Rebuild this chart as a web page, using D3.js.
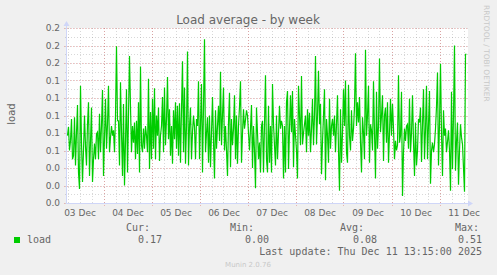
<!DOCTYPE html>
<html>
<head>
<meta charset="utf-8">
<script src="https://cdn.jsdelivr.net/npm/d3@7"></script>
<style>
body { margin: 0; background: #f0f0f0; }
svg { display: block; }
</style>
</head>
<body>
<svg id="chart" width="497" height="275"></svg>
<script>
const title = "Load average - by week";
const yTicks = [0, 0.01, 0.02, 0.03, 0.04, 0.05, 0.06, 0.07, 0.08, 0.09, 0.10,
                0.11, 0.12, 0.13, 0.14, 0.15, 0.16, 0.17, 0.18, 0.19, 0.20];
const yLabelTicks = [0, 0.02, 0.04, 0.06, 0.08, 0.10, 0.12, 0.14, 0.16, 0.18, 0.20];
const dayLabels = ["03 Dec", "04 Dec", "05 Dec", "06 Dec", "07 Dec", "08 Dec", "09 Dec", "10 Dec", "11 Dec"];
const legendHeads = ["Cur:", "Min:", "Avg:", "Max:"];
const legendValues = ["0.17", "0.00", "0.08", "0.51"];
const lastUpdate = "Last update: Thu Dec 11 13:15:00 2025";

// load average, one sample per 30 minutes, oldest first
const load = [
  0.077,0.087,0.060,0.071,0.096,0.050,0.054,0.098,0.043,0.080,
  0.112,0.035,0.016,0.134,0.070,0.024,0.060,0.100,0.065,0.043,
  0.090,0.115,0.031,0.070,0.109,0.024,0.050,0.068,0.050,0.079,
  0.081,0.050,0.102,0.058,0.088,0.129,0.031,0.075,0.119,0.062,
  0.090,0.134,0.058,0.075,0.088,0.077,0.083,0.058,0.100,0.179,
  0.094,0.094,0.043,0.138,0.080,0.031,0.113,0.020,0.070,0.130,
  0.035,0.100,0.168,0.110,0.058,0.088,
  0.069,0.092,0.050,0.094,0.056,0.115,0.035,0.156,0.066,0.058,
  0.085,0.062,0.088,0.077,0.058,0.142,0.039,0.104,0.050,0.119,
  0.062,0.131,0.050,0.100,0.077,0.109,0.048,0.077,0.088,0.121,
  0.058,0.132,0.066,0.096,0.144,0.073,0.107,0.054,0.088,0.045,
  0.106,0.073,0.115,0.062,0.111,0.054,0.114,0.046,0.107,0.162,
  0.058,0.132,0.045,0.088,0.173,0.043,0.088,0.109,0.050,0.081,
  0.100,0.087,0.050,0.096,0.088,0.139,
  0.050,0.090,0.136,0.035,0.110,0.187,0.058,0.080,0.098,0.046,
  0.100,0.041,0.080,0.121,0.070,0.028,0.106,0.062,0.088,0.111,
  0.071,0.150,0.066,0.100,0.132,0.060,0.088,0.060,0.031,0.092,
  0.126,0.041,0.096,0.066,0.085,0.123,0.050,0.100,0.045,0.088,
  0.110,0.139,0.046,0.080,0.107,0.085,0.095,0.106,0.100,0.080,
  0.060,0.085,0.112,0.040,0.088,0.060,0.017,0.109,0.080,0.050,
  0.069,0.035,0.088,0.094,0.035,0.090,0.146,
  0.050,0.035,0.111,0.046,0.088,0.035,0.136,0.090,0.066,0.043,
  0.100,0.050,0.080,0.111,0.085,0.094,0.088,0.028,0.088,0.035,
  0.115,0.128,0.039,0.085,0.123,0.081,0.128,0.041,0.096,0.077,
  0.060,0.028,0.134,0.100,0.066,0.145,0.067,0.080,0.090,0.100,
  0.058,0.107,0.077,0.103,0.058,0.085,0.119,0.066,0.100,0.168,
  0.067,0.100,0.151,0.090,0.113,0.033,0.070,0.100,0.130,0.026,
  0.096,0.077,0.046,0.119,0.062,0.088,0.096,
  0.077,0.100,0.058,0.090,0.123,0.060,0.014,0.107,0.046,0.080,
  0.130,0.088,0.140,0.058,0.046,0.135,0.077,0.060,0.106,0.071,
  0.085,0.110,0.171,0.088,0.115,0.092,0.121,0.070,0.035,0.098,
  0.080,0.050,0.175,0.077,0.100,0.134,0.046,0.090,0.083,0.060,
  0.139,0.080,0.028,0.127,0.062,0.088,0.165,0.081,0.100,0.123,
  0.048,0.100,0.109,0.069,0.115,0.046,0.080,0.119,0.077,0.113,
  0.085,0.050,0.071,0.060,0.066,0.146,0.069,
  0.077,0.127,0.008,0.058,0.085,0.071,0.088,0.090,0.062,0.119,
  0.058,0.080,0.123,0.070,0.031,0.092,0.043,0.060,0.096,0.092,
  0.109,0.047,0.090,0.130,0.050,0.085,0.134,0.050,0.090,0.128,
  0.022,0.060,0.069,0.058,0.067,0.085,0.110,0.149,0.043,0.090,
  0.159,0.080,0.031,0.106,0.077,0.085,0.058,0.070,0.083,0.060,
  0.014,0.127,0.039,0.100,0.180,0.037,0.070,0.092,0.021,0.060,
  0.090,0.075,0.067,0.040,0.013,0.170,0.170
];

const svg = d3.select("#chart");
const font = "DejaVu Sans, sans-serif";
const mono = "DejaVu Sans Mono, monospace";
const fontColor = "#666666";
const axisColor = "#cfd6f8";

const plotLeft = 66, plotRight = 466, plotTop = 28, plotBottom = 203;

const endTime = new Date(2025, 11, 11, 13, 15);
const startTime = d3.timeHour.offset(endTime, -200);
const points = load.map((v, i) => ({ t: d3.timeMinute.offset(startTime, 30 * (i + 1)), v }));

const x = d3.scaleTime().domain([startTime, endTime]).range([plotLeft, plotRight]);
const y = d3.scaleLinear().domain([0, 0.2]).range([plotBottom, plotTop]);

// canvas
svg.append("rect")
    .attr("x", plotLeft + 1).attr("y", plotTop)
    .attr("width", plotRight - plotLeft + 1).attr("height", plotBottom - plotTop)
    .attr("fill", "#ffffff");

const grid = svg.append("g");
const minorGrid = "rgba(143,143,143,0.35)";
const majorGrid = "rgba(222,79,79,0.38)";

// minor grid (every 6h / every 0.01)
const sixHours = d3.timeHour.every(6).range(startTime, endTime);
grid.selectAll(".vmin")
    .data(sixHours)
    .enter().append("line")
    .attr("x1", d => Math.round(x(d)) + 0.5).attr("x2", d => Math.round(x(d)) + 0.5)
    .attr("y1", plotTop).attr("y2", plotBottom + 2)
    .attr("stroke", minorGrid)
    .attr("stroke-dasharray", "1,2");

grid.selectAll(".hmin")
    .data(yTicks)
    .enter().append("line")
    .attr("x1", plotLeft - 1).attr("x2", plotRight + 2)
    .attr("y1", d => Math.round(y(d)) + 0.5).attr("y2", d => Math.round(y(d)) + 0.5)
    .attr("stroke", minorGrid)
    .attr("stroke-dasharray", "1,2");

// major grid (midnights / every 0.02)
const days = d3.timeDay.range(startTime, endTime);
grid.selectAll(".vmaj")
    .data(days)
    .enter().append("line")
    .attr("x1", d => Math.round(x(d)) + 0.5).attr("x2", d => Math.round(x(d)) + 0.5)
    .attr("y1", plotTop).attr("y2", plotBottom + 3)
    .attr("stroke", majorGrid)
    .attr("stroke-dasharray", "1,2");

grid.selectAll(".hmaj")
    .data(yLabelTicks)
    .enter().append("line")
    .attr("x1", plotLeft - 2).attr("x2", plotRight + 2)
    .attr("y1", d => Math.round(y(d)) + 0.5).attr("y2", d => Math.round(y(d)) + 0.5)
    .attr("stroke", majorGrid)
    .attr("stroke-dasharray", "1,2");

// axis lines and arrows
svg.append("line")
    .attr("x1", plotLeft + 0.5).attr("x2", plotRight + 4)
    .attr("y1", plotBottom + 0.5).attr("y2", plotBottom + 0.5)
    .attr("stroke", axisColor);
svg.append("line")
    .attr("x1", plotLeft + 0.5).attr("x2", plotLeft + 0.5)
    .attr("y1", plotBottom + 0.5).attr("y2", plotTop - 4)
    .attr("stroke", axisColor);
svg.append("path")
    .attr("d", `M${plotRight + 7},${plotBottom + 0.5} L${plotRight + 2},${plotBottom - 2.5} L${plotRight + 2},${plotBottom + 3.5} Z`)
    .attr("fill", axisColor);
svg.append("path")
    .attr("d", `M${plotLeft + 0.5},${plotTop - 7} L${plotLeft - 2.5},${plotTop - 2} L${plotLeft + 3.5},${plotTop - 2} Z`)
    .attr("fill", axisColor);

// load line
const line = d3.line()
    .x(d => x(d.t) + 0.5)
    .y(d => y(Math.min(d.v, 0.2)));
svg.append("path")
    .datum(points)
    .attr("d", line)
    .attr("fill", "none")
    .attr("stroke", "#00cc00")
    .attr("stroke-width", 1.2)
    .attr("stroke-linejoin", "miter");

// x axis labels, centred on noon
const noons = dayLabels.map((d, i) => d3.timeHour.offset(new Date(2025, 11, 3 + i), 12));
const xAxis = svg.append("g")
    .attr("transform", `translate(0,${plotBottom})`)
    .call(d3.axisBottom(x).tickValues(noons).tickFormat((d, i) => dayLabels[i]).tickSize(0).tickPadding(6.5));
xAxis.select(".domain").remove();
xAxis.selectAll("text")
    .attr("font-family", font).attr("font-size", 9).attr("fill", fontColor);

// y axis labels
const yAxis = svg.append("g")
    .attr("transform", `translate(${plotLeft},0)`)
    .call(d3.axisLeft(y).tickValues(yLabelTicks).tickFormat(d3.format(".1f")).tickSize(0).tickPadding(6));
yAxis.select(".domain").remove();
yAxis.selectAll("text")
    .attr("font-family", font).attr("font-size", 9).attr("fill", fontColor);

// title and axis title
svg.append("text")
    .attr("x", 248).attr("y", 24)
    .attr("text-anchor", "middle")
    .attr("font-family", font).attr("font-size", 12)
    .attr("fill", fontColor)
    .text(title);

svg.append("text")
    .attr("transform", "translate(14.5,114) rotate(-90)")
    .attr("text-anchor", "middle")
    .attr("font-family", font).attr("font-size", 10)
    .attr("fill", fontColor)
    .text("load");

// watermark
svg.append("text")
    .attr("transform", "translate(484,5) rotate(90)")
    .attr("font-family", font).attr("font-size", 7.5)
    .attr("fill", "#c8c8c8")
    .text("RRDTOOL / TOBI OETIKER");

// legend
const headRight = [150, 254, 364, 479];
const valueRight = [162, 269, 377, 482];
svg.selectAll(".head")
    .data(legendHeads)
    .enter().append("text")
    .attr("x", (d, i) => headRight[i]).attr("y", 231)
    .attr("text-anchor", "end")
    .attr("font-family", mono).attr("font-size", 10)
    .attr("fill", fontColor)
    .text(d => d);

svg.selectAll(".val")
    .data(legendValues)
    .enter().append("text")
    .attr("x", (d, i) => valueRight[i]).attr("y", 243)
    .attr("text-anchor", "end")
    .attr("font-family", mono).attr("font-size", 10)
    .attr("fill", fontColor)
    .text(d => d);

svg.append("rect")
    .attr("x", 14).attr("y", 237).attr("width", 6).attr("height", 6)
    .attr("fill", "#00cc00");
svg.append("text")
    .attr("x", 27).attr("y", 243)
    .attr("font-family", mono).attr("font-size", 10)
    .attr("fill", fontColor)
    .text("load");

svg.append("text")
    .attr("x", 482).attr("y", 255)
    .attr("text-anchor", "end")
    .attr("font-family", mono).attr("font-size", 10)
    .attr("fill", fontColor)
    .text(lastUpdate);

svg.append("text")
    .attr("x", 248).attr("y", 267)
    .attr("text-anchor", "middle")
    .attr("font-family", font).attr("font-size", 7)
    .attr("fill", "#c8c8c8")
    .text("Munin 2.0.76");
</script>
</body>
</html>
